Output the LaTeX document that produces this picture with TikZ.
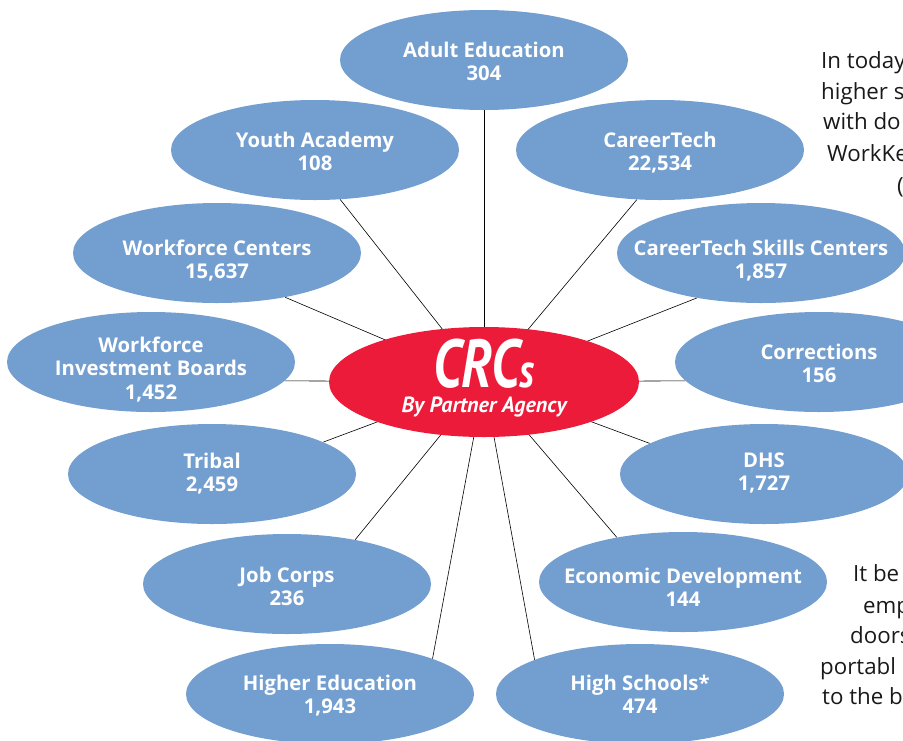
\documentclass[tikz,border=0pt]{standalone}
\usepackage{fontspec}
\setmainfont{Open Sans}
\newfontfamily\crcfont[FakeStretch=0.78]{PT Sans}
\newfontfamily\partnerfont{PT Sans}
\usetikzlibrary{shapes.geometric, backgrounds}
\definecolor{agencyblue}{RGB}{115,158,208}
\definecolor{crcred}{RGB}{237,27,58}
% #1 = raise of the first baseline above the centre
\newcommand{\agency}[2][0]{\makebox[0pt]{\smash{\raisebox{#1pt}{\begin{tabular}[t]{@{}c@{}}#2\end{tabular}}}}}
\tikzset{
        agency/.style={ellipse, fill=agencyblue, minimum width=288, minimum height=100,
                inner sep=0pt, text=white, font=\fontsize{20.3}{23.5}\selectfont\bfseries},
        hub/.style={ellipse, fill=crcred, minimum width=310, minimum height=110,
                inner sep=0pt, text=white, font=\fontsize{22}{25}\selectfont},
        spoke/.style={line width=0.6pt},
        body/.style={anchor=base west, inner sep=0pt, text=black!90, font=\fontsize{22.3}{25}\selectfont}
        }

\begin{document}
\begin{tikzpicture}[x=1pt, y=-1pt]
        \useasboundingbox (0,0) rectangle (903,740);
        \clip (0,0) rectangle (903,740);
        \node[hub](crc) at (484,382){\agency[-5]{%
                {\crcfont\bfseries\itshape\fontsize{68}{68}\selectfont CRC\fontsize{48}{48}\selectfont s}\\
                \partnerfont\bfseries\itshape By Partner Agency}};
        \node[agency](adult) at (484,60){\agency[3]{Adult Education\\304}};
        \node[agency](youth) at (315,150){\agency[3]{Youth Academy\\108}};
        \node[agency](ctech) at (660,150){\agency[3]{CareerTech\\22,534}};
        \node[agency](wfc) at (217,253){\agency[-2]{Workforce Centers\\15,637}};
        \node[agency](skills) at (761,253){\agency[-2]{CareerTech Skills Centers\\1,857}};
        \node[agency](wib) at (151,362){\agency[10]{Workforce\\Investment Boards\\1,452}};
        \node[agency](corr) at (819,362){\agency[3]{Corrections\\156}};
        \node[agency](tribal) at (212,474){\agency[6]{Tribal\\2,459}};
        \node[agency](dhs) at (764,474){\agency[7]{DHS\\1,727}};
        \node[agency](jobc) at (287,584){\agency[2]{Job Corps\\236}};
        \node[agency](econ) at (683,582){\agency[-1]{Economic Development\\144}};
        \node[agency](highed) at (330,694){\agency[4]{Higher Education\\1,943}};
        \node[agency](hschool) at (640,694){\agency[4]{High Schools*\\474}};
        \begin{pgfonlayer}{background}
        \draw[spoke] (crc.center) edge (adult.south) edge (youth.-63) edge (ctech.245)
              edge (wfc.-33) edge (skills.215) edge (wib.-8.6) edge (corr.188.5)
              edge (tribal.16) edge (dhs.165) edge (jobc.33) edge (econ.146)
              edge (highed.19) edge (hschool.162);
        \end{pgfonlayer}
        % text running on beside the chart
        \node[body](t1) at (821,68){In today};
        \node[body](t2) at (821,99){higher s};
        \node[body](t3) at (823,129){with do};
        \node[body](t4) at (827,161){WorkKe};
        \node[body](t5) at (897,193){(};
        \node[body](t6) at (853,581){It be};
        \node[body](t7) at (863,613){emp};
        \node[body](t8) at (850,643){doors};
        \node[body](t9) at (820,674){portabl};
        \node[body](t10) at (822,704){to the b};
\end{tikzpicture}
\end{document}
